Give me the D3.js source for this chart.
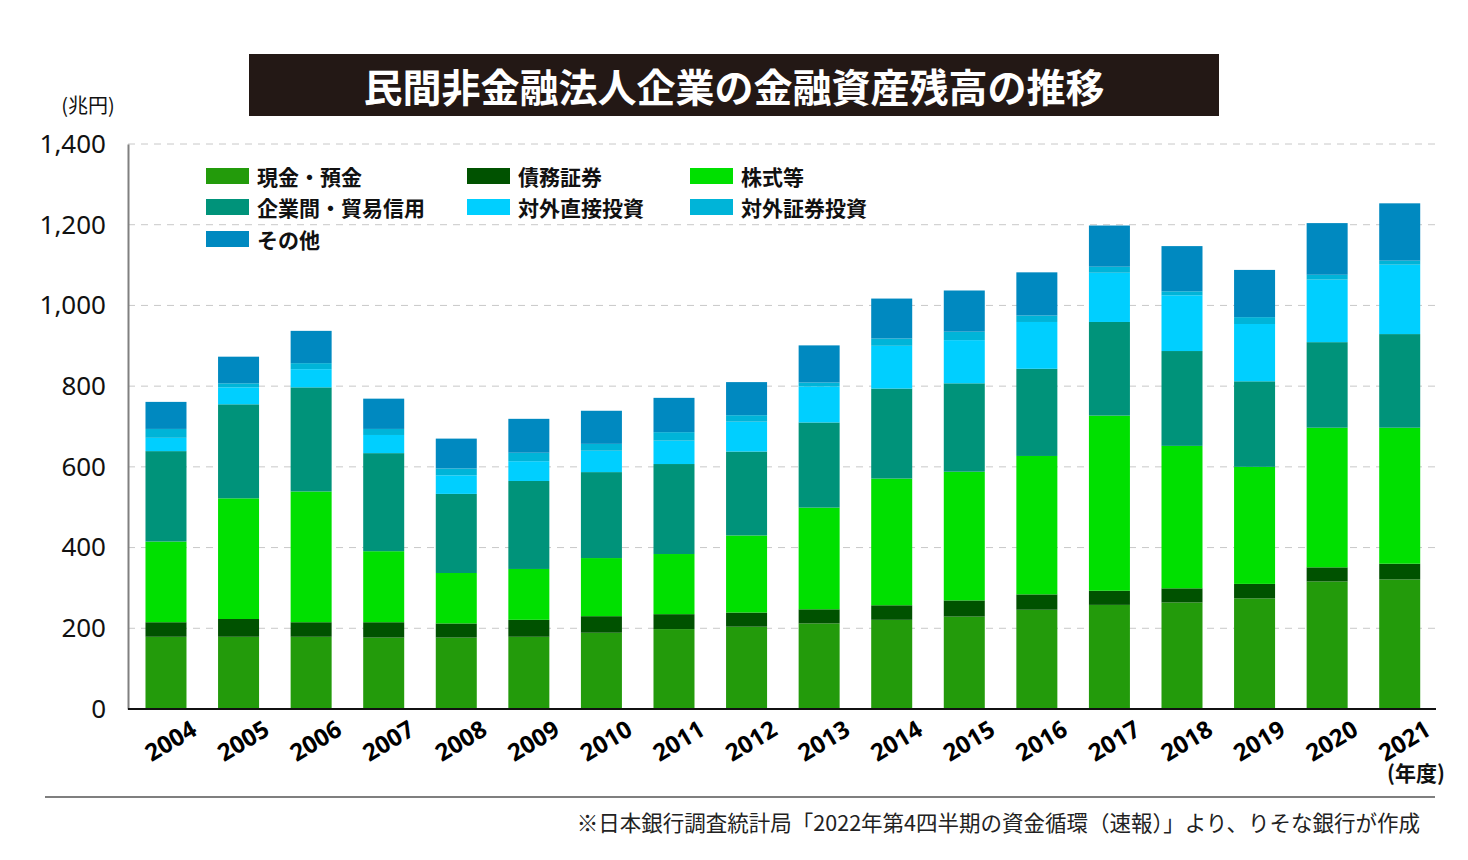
<!DOCTYPE html>
<html><head><meta charset="utf-8">
<script src="https://cdn.jsdelivr.net/npm/d3@7"></script>
<style>
body{margin:0;background:#fff;}
svg{display:block;font-family:"Noto Sans CJK JP","Noto Sans",sans-serif;}
</style></head>
<body><svg id="c" width="1468" height="860"></svg>
<script>
const years = ["2004","2005","2006","2007","2008","2009","2010","2011","2012","2013","2014","2015","2016","2017","2018","2019","2020","2021"];
const seriesNames = ["現金・預金","債務証券","株式等","企業間・貿易信用","対外直接投資","対外証券投資","その他"];
const seriesColors = ["#239b0b","#005200","#00e000","#00937a","#00cfff","#00b4d8","#0089c0"];
const cash      = [179,179,179,177,177,179,189,198,204,212,221,229,246,258,264,274,316,321];
const debt      = [36,44,36,38,35,42,41,37,35,35,36,40,38,35,35,36,35,39];
const equity    = [200,299,324,176,125,126,144,149,191,252,314,319,343,434,353,290,346,337];
const trade     = [224,233,258,243,196,218,213,223,208,211,223,219,216,232,235,212,212,232];
const fdi       = [33,42,45,45,46,49,53,58,74,89,106,107,116,122,138,142,155,172];
const portfolio = [22,10,15,15,17,21,17,21,16,10,18,21,16,15,10,17,12,10];
const other     = [67,66,80,75,74,84,82,85,82,92,99,102,107,102,112,117,128,142];
const yTicks = [0,200,400,600,800,1000,1200,1400];
const legendCols = [0,1,2,0,1,2,0];
const legendRows = [0,0,0,1,1,1,2];

const seriesData = [cash,debt,equity,trade,fdi,portfolio,other];
const rows = years.map((y,i)=>{const o={year:y};seriesNames.forEach((n,k)=>o[n]=seriesData[k][i]);return o;});
const stacked = d3.stack().keys(seriesNames)(rows);

const svg = d3.select("#c");
const x0 = 128, x1 = 1436, yTop = 144, yBot = 709;
const x = d3.scaleBand().domain(years).range([129.7, x1]).paddingInner(0.435).paddingOuter(0.2175);
const y = d3.scaleLinear().domain([0,1400]).range([yBot, yTop]);

// title
svg.append("rect").attr("x",249).attr("y",54).attr("width",970).attr("height",62).attr("fill","#231815");
svg.append("text").attr("x",734).attr("y",85).attr("text-anchor","middle").attr("dominant-baseline","central")
  .attr("fill","#fff").attr("font-size",39).attr("font-weight","bold").text("民間非金融法人企業の金融資産残高の推移");

// grid
svg.append("g").selectAll("line").data(yTicks.filter(d=>d>0)).join("line")
  .attr("x1",x0).attr("x2",x1).attr("y1",d=>y(d)).attr("y2",d=>y(d))
  .attr("stroke","#c8c8c8").attr("stroke-width",1).attr("stroke-dasharray","7,6");

// bars
svg.append("g").selectAll("g").data(stacked).join("g").attr("fill",(d,i)=>seriesColors[i])
  .selectAll("rect").data(d=>d).join("rect")
  .attr("x",d=>x(d.data.year)).attr("width",x.bandwidth())
  .attr("y",d=>y(d[1])).attr("height",d=>y(d[0])-y(d[1]));

// axes
const yAxis = d3.axisLeft(y).tickValues(yTicks).tickSize(0).tickPadding(22).tickFormat(d3.format(","));
const gy = svg.append("g").attr("transform",`translate(${x0},0)`).call(yAxis);
gy.select(".domain").attr("stroke","#808080").attr("stroke-width",2);
gy.selectAll("text").attr("font-size",26).attr("fill","#111").attr("font-family","'Noto Sans',sans-serif");

const xAxis = d3.axisBottom(x).tickSize(0).tickSizeOuter(0);
const gx = svg.append("g").attr("transform",`translate(0,${yBot})`).call(xAxis);
gx.select(".domain").attr("d",`M${x0},0H${x1}`).attr("stroke","#111").attr("stroke-width",2);
gx.selectAll("text").attr("font-size",24).attr("font-weight","bold").attr("fill","#000")
  .attr("text-anchor","end").attr("dy",null).attr("y",0)
  .attr("transform",`translate(${x.bandwidth()/2+12},${25}) rotate(-31)`)
  .attr("font-family","'Open Sans',sans-serif");

// unit labels
svg.append("text").attr("x",88).attr("y",113).attr("text-anchor","middle").attr("font-size",20).attr("fill","#111").text("(兆円)");
svg.append("text").attr("x",1416).attr("y",781).attr("text-anchor","middle").attr("font-size",21).attr("font-weight","bold").attr("fill","#111").text("(年度)");

// legend
const lg = svg.append("g");
const colX = [206,467,690], rowY = [176,207,239];
seriesNames.forEach((n,i)=>{
  const gx_ = colX[legendCols[i]], gy_ = rowY[legendRows[i]];
  lg.append("rect").attr("x",gx_).attr("y",gy_-8).attr("width",43).attr("height",16).attr("fill",seriesColors[i]);
  lg.append("text").attr("x",gx_+51).attr("y",gy_).attr("dominant-baseline","central")
    .attr("font-size",21).attr("font-weight","bold").attr("fill","#111").text(n);
});

// footer
svg.append("line").attr("x1",45).attr("x2",1435).attr("y1",797).attr("y2",797).attr("stroke","#555").attr("stroke-width",1.5);
svg.append("text").attr("x",1420).attr("y",831).attr("text-anchor","end").attr("font-size",21.5).attr("fill","#222")
  .text("※日本銀行調査統計局「2022年第4四半期の資金循環（速報）」より、りそな銀行が作成");
</script></body></html>
